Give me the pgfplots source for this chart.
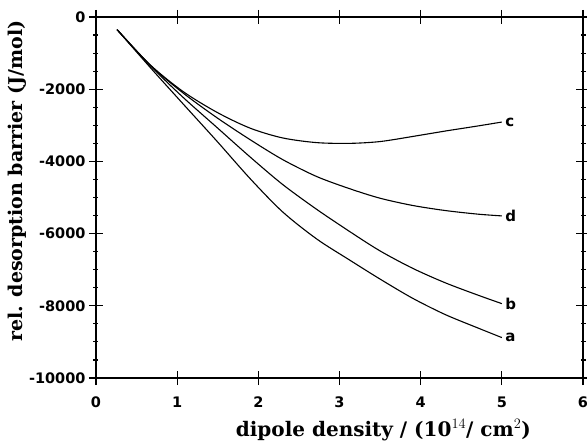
\documentclass[border=0pt]{standalone}
\usepackage{fontspec}
\setmainfont{DejaVu Serif}
\newfontfamily\ticksans{DejaVu Sans}
\usepackage{pgfplots}
\pgfplotsset{compat=1.18}
\usetikzlibrary{calc}

\pgfplotsset{curve/.style={black, line width=1.1pt, smooth, no marks}}

\begin{document}
\begin{tikzpicture}
\begin{axis}[
  scale only axis,
  width=487pt, height=361pt,
  xmin=0, xmax=6, ymin=-10000, ymax=0,
  xtick={0,1,2,3,4,5,6},
  ytick={-10000,-8000,-6000,-4000,-2000,0},
  minor y tick num=3,
  tick align=center,
  major tick length=14pt,
  minor tick length=5pt,
  axis line style={line width=1.2pt},
  every tick/.style={black, line width=1.1pt},
  scaled y ticks=false,
  /pgf/number format/assume math mode=true,
  /pgf/number format/1000 sep={},
  ticklabel style={font=\ticksans\bfseries\fontsize{14.5}{16}\selectfont},
  xticklabel style={yshift=-8pt},
  xlabel={dipole density / (10$^{14}$/ cm$^{2}$)},
  ylabel={rel. desorption barrier (J/mol)},
  xlabel style={font=\bfseries\fontsize{20}{22}\selectfont, at={(ticklabel cs:0.59)}, yshift=-5pt},
  ylabel style={font=\bfseries\fontsize{19}{21}\selectfont, at={(ticklabel cs:0.545)}, yshift=-4pt},
]
% a
\addplot[curve] coordinates {
  (0.26,-350)(0.665,-1390)(1.07,-2400)(1.49,-3440)(1.9,-4480)(2.3,-5400)
  (2.72,-6150)(3.13,-6740)(3.5,-7260)(3.9,-7790)(4.3,-8240)(4.7,-8610)(5,-8880)
};
% b
\addplot[curve] coordinates {
  (0.26,-350)(0.665,-1340)(1.07,-2220)(1.49,-3060)(1.9,-3880)(2.3,-4640)
  (2.72,-5330)(3.13,-5950)(3.5,-6480)(3.9,-6960)(4.3,-7360)(4.7,-7700)(5,-7940)
};
% c
\addplot[curve] coordinates {
  (0.26,-350)(0.665,-1320)(1.07,-2060)(1.49,-2640)(1.9,-3080)(2.3,-3350)
  (2.72,-3480)(3.13,-3500)(3.5,-3450)(3.9,-3310)(4.3,-3160)(4.7,-3020)(5,-2910)
};
% d
\addplot[curve] coordinates {
  (0.26,-350)(0.665,-1330)(1.07,-2100)(1.49,-2790)(1.9,-3400)(2.3,-3950)
  (2.72,-4420)(3.13,-4760)(3.5,-5020)(3.9,-5220)(4.3,-5360)(4.7,-5460)(5,-5510)
};
\begin{scope}[every node/.style={anchor=west, inner sep=1pt, font=\ticksans\bfseries\fontsize{15}{17}\selectfont}]
\node at (axis cs:5.03,-8880) {a};
\node at (axis cs:5.03,-7940) {b};
\node at (axis cs:5.03,-2910) {c};
\node at (axis cs:5.03,-5510) {d};
\end{scope}
\end{axis}
\pgfresetboundingbox
\path[use as bounding box] ($(current axis.south west)+(-96pt,-67pt)$) rectangle ($(current axis.north east)+(4pt,17pt)$);
\end{tikzpicture}
\end{document}
